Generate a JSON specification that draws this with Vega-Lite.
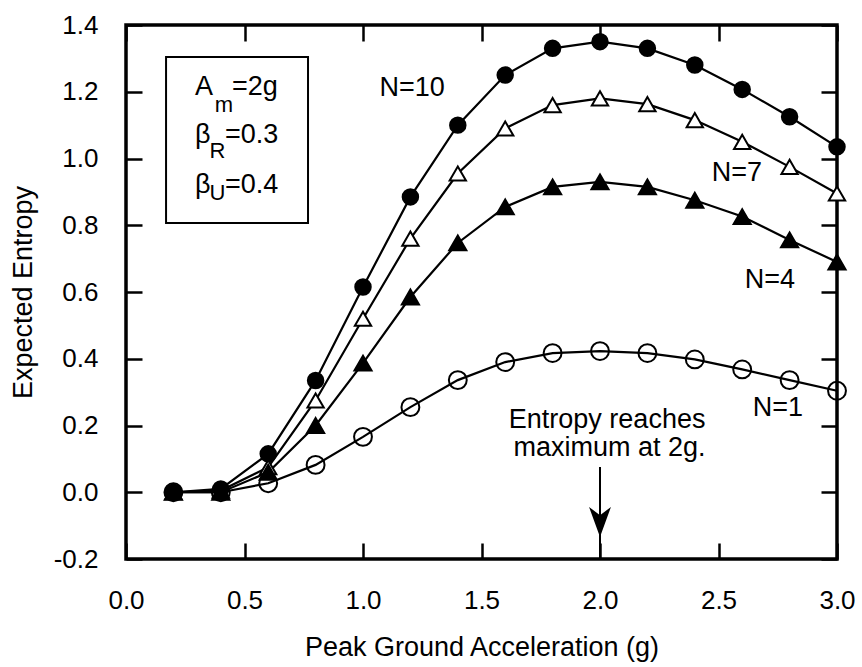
{
  "$schema": "https://vega.github.io/schema/vega-lite/v6.json",
  "width": 711,
  "height": 534,
  "autosize": {"type": "none"},
  "padding": {"left": 126, "top": 25, "right": 25, "bottom": 108},
  "background": "white",
  "config": {
    "view": {"stroke": "black", "strokeWidth": 3.5},
    "font": "Liberation Sans",
    "axis": {
      "grid": false, "domain": false, "tickColor": "black", "tickWidth": 2.5, "tickSize": -16,
      "labelColor": "black", "titleColor": "black", "labelFont": "Liberation Sans", "titleFont": "Liberation Sans",
      "labelFontSize": 26, "titleFontSize": 27, "titleFontWeight": "normal", "labelFlush": false, "labelOverlap": false
    }
  },
  "datasets": {
    "series": [
      {"x": 0.2, "E": 0.0, "N": "N=10"}, {"x": 0.4, "E": 0.01, "N": "N=10"}, {"x": 0.6, "E": 0.115, "N": "N=10"}, {"x": 0.8, "E": 0.335, "N": "N=10"}, {"x": 1.0, "E": 0.615, "N": "N=10"}, {"x": 1.2, "E": 0.885, "N": "N=10"}, {"x": 1.4, "E": 1.10, "N": "N=10"}, {"x": 1.6, "E": 1.25, "N": "N=10"}, {"x": 1.8, "E": 1.33, "N": "N=10"}, {"x": 2.0, "E": 1.35, "N": "N=10"}, {"x": 2.2, "E": 1.33, "N": "N=10"}, {"x": 2.4, "E": 1.28, "N": "N=10"}, {"x": 2.6, "E": 1.207, "N": "N=10"}, {"x": 2.8, "E": 1.125, "N": "N=10"}, {"x": 3.0, "E": 1.035, "N": "N=10"},
      {"x": 0.2, "E": 0.0, "N": "N=7"}, {"x": 0.4, "E": 0.005, "N": "N=7"}, {"x": 0.6, "E": 0.075, "N": "N=7"}, {"x": 0.8, "E": 0.275, "N": "N=7"}, {"x": 1.0, "E": 0.52, "N": "N=7"}, {"x": 1.2, "E": 0.76, "N": "N=7"}, {"x": 1.4, "E": 0.955, "N": "N=7"}, {"x": 1.6, "E": 1.09, "N": "N=7"}, {"x": 1.8, "E": 1.16, "N": "N=7"}, {"x": 2.0, "E": 1.18, "N": "N=7"}, {"x": 2.2, "E": 1.163, "N": "N=7"}, {"x": 2.4, "E": 1.115, "N": "N=7"}, {"x": 2.6, "E": 1.05, "N": "N=7"}, {"x": 2.8, "E": 0.975, "N": "N=7"}, {"x": 3.0, "E": 0.895, "N": "N=7"},
      {"x": 0.2, "E": 0.0, "N": "N=4"}, {"x": 0.4, "E": 0.0, "N": "N=4"}, {"x": 0.6, "E": 0.06, "N": "N=4"}, {"x": 0.8, "E": 0.20, "N": "N=4"}, {"x": 1.0, "E": 0.387, "N": "N=4"}, {"x": 1.2, "E": 0.585, "N": "N=4"}, {"x": 1.4, "E": 0.747, "N": "N=4"}, {"x": 1.6, "E": 0.855, "N": "N=4"}, {"x": 1.8, "E": 0.915, "N": "N=4"}, {"x": 2.0, "E": 0.93, "N": "N=4"}, {"x": 2.2, "E": 0.915, "N": "N=4"}, {"x": 2.4, "E": 0.875, "N": "N=4"}, {"x": 2.6, "E": 0.826, "N": "N=4"}, {"x": 2.8, "E": 0.756, "N": "N=4"}, {"x": 3.0, "E": 0.69, "N": "N=4"},
      {"x": 0.2, "E": 0.0, "N": "N=1"}, {"x": 0.4, "E": 0.0, "N": "N=1"}, {"x": 0.6, "E": 0.027, "N": "N=1"}, {"x": 0.8, "E": 0.082, "N": "N=1"}, {"x": 1.0, "E": 0.166, "N": "N=1"}, {"x": 1.2, "E": 0.255, "N": "N=1"}, {"x": 1.4, "E": 0.336, "N": "N=1"}, {"x": 1.6, "E": 0.39, "N": "N=1"}, {"x": 1.8, "E": 0.417, "N": "N=1"}, {"x": 2.0, "E": 0.423, "N": "N=1"}, {"x": 2.2, "E": 0.417, "N": "N=1"}, {"x": 2.4, "E": 0.398, "N": "N=1"}, {"x": 2.6, "E": 0.368, "N": "N=1"}, {"x": 2.8, "E": 0.336, "N": "N=1"}, {"x": 3.0, "E": 0.304, "N": "N=1"}
    ],
    "box": [{"x0": 0.169, "x1": 0.768, "y0": 0.807, "y1": 1.304}],
    "arrow": [{"x": 2.0, "y0": 0.076, "y1": -0.2, "head": -0.089}],
    "labels": [
      {"x": 1.207, "y": 1.211, "t": "N=10"},
      {"x": 2.578, "y": 0.957, "t": "N=7"},
      {"x": 2.717, "y": 0.636, "t": "N=4"},
      {"x": 2.751, "y": 0.252, "t": "N=1"},
      {"x": 2.03, "y": 0.216, "t": "Entropy reaches"},
      {"x": 2.04, "y": 0.133, "t": "maximum at 2g."}
    ],
    "legmain": [
      {"x": 0.291, "y": 1.19, "t": "A"}, {"x": 0.447, "y": 1.19, "t": "=2g"},
      {"x": 0.291, "y": 1.046, "t": "β"}, {"x": 0.418, "y": 1.046, "t": "=0.3"},
      {"x": 0.291, "y": 0.897, "t": "β"}, {"x": 0.418, "y": 0.897, "t": "=0.4"}
    ],
    "legsub": [
      {"x": 0.374, "y": 1.139, "t": "m"},
      {"x": 0.352, "y": 1.001, "t": "R"},
      {"x": 0.352, "y": 0.876, "t": "U"}
    ]
  },
  "layer": [
    {
      "data": {"name": "box"},
      "mark": {"type": "rect", "fill": "white", "stroke": "black", "strokeWidth": 2},
      "encoding": {
        "x": {"field": "x0", "type": "quantitative", "scale": {"domain": [0, 3], "nice": false, "zero": false}, "axis": null},
        "x2": {"field": "x1"},
        "y": {"field": "y0", "type": "quantitative", "scale": {"domain": [-0.2, 1.4], "nice": false, "zero": false}, "axis": null},
        "y2": {"field": "y1"}
      }
    },
    {
      "data": {"name": "series"},
      "mark": {"type": "line", "color": "black", "strokeWidth": 2.2, "clip": false},
      "encoding": {
        "x": {"field": "x", "type": "quantitative", "scale": {"domain": [0, 3], "nice": false, "zero": false},
              "axis": {"orient": "bottom", "values": [0, 0.5, 1, 1.5, 2, 2.5, 3], "format": ".1f", "labelPadding": 44, "title": "Peak Ground Acceleration (g)", "titlePadding": 21}},
        "y": {"field": "E", "type": "quantitative", "scale": {"domain": [-0.2, 1.4], "nice": false, "zero": false},
              "axis": {"orient": "left", "values": [-0.2, 0, 0.2, 0.4, 0.6, 0.8, 1.0, 1.2, 1.4], "format": ".1f", "labelExpr": "replace(datum.label, '−', '-')", "labelPadding": 44, "title": "Expected Entropy", "titlePadding": 16}},
        "detail": {"field": "N", "type": "nominal"}
      }
    },
    {
      "data": {"name": "arrow"},
      "mark": {"type": "rule", "color": "black", "strokeWidth": 2},
      "encoding": {
        "x": {"field": "x", "type": "quantitative", "axis": null},
        "y": {"field": "y0", "type": "quantitative", "axis": null},
        "y2": {"field": "y1"}
      }
    },
    {
      "data": {"name": "arrow"},
      "mark": {"type": "point", "shape": "M0,1L-0.73,-1L0,-0.45L0.73,-1Z", "size": 900, "filled": true, "color": "black", "opacity": 1},
      "encoding": {
        "x": {"field": "x", "type": "quantitative", "axis": null},
        "y": {"field": "head", "type": "quantitative", "axis": null}
      }
    },
    {
      "data": {"name": "series"},
      "mark": {"type": "point", "filled": true, "stroke": "black", "strokeWidth": 2, "opacity": 1, "clip": false},
      "encoding": {
        "x": {"field": "x", "type": "quantitative", "scale": {"domain": [0, 3], "nice": false, "zero": false},
              "axis": {"orient": "top", "values": [0, 0.5, 1, 1.5, 2, 2.5, 3], "labels": false, "title": null}},
        "y": {"field": "E", "type": "quantitative", "scale": {"domain": [-0.2, 1.4], "nice": false, "zero": false},
              "axis": {"orient": "right", "values": [-0.2, 0, 0.2, 0.4, 0.6, 0.8, 1.0, 1.2, 1.4], "labels": false, "title": null}},
        "shape": {"field": "N", "type": "nominal", "scale": {"domain": ["N=10", "N=7", "N=4", "N=1"], "range": ["circle", "triangle-up", "triangle-up", "circle"]}, "legend": null},
        "fill": {"field": "N", "type": "nominal", "scale": {"domain": ["N=10", "N=7", "N=4", "N=1"], "range": ["black", "white", "black", "transparent"]}, "legend": null},
        "size": {"field": "N", "type": "nominal", "scale": {"domain": ["N=10", "N=7", "N=4", "N=1"], "range": [240, 320, 320, 250]}, "legend": null}
      }
    },
    {
      "data": {"name": "labels"},
      "mark": {"type": "text", "align": "center", "baseline": "middle", "fontSize": 27, "font": "Liberation Sans", "color": "black"},
      "encoding": {
        "x": {"field": "x", "type": "quantitative", "axis": null},
        "y": {"field": "y", "type": "quantitative", "axis": null},
        "text": {"field": "t"}
      }
    },
    {
      "data": {"name": "legmain"},
      "mark": {"type": "text", "align": "left", "baseline": "alphabetic", "fontSize": 27, "font": "Liberation Sans", "color": "black"},
      "encoding": {
        "x": {"field": "x", "type": "quantitative", "axis": null},
        "y": {"field": "y", "type": "quantitative", "axis": null},
        "text": {"field": "t"}
      }
    },
    {
      "data": {"name": "legsub"},
      "mark": {"type": "text", "align": "left", "baseline": "alphabetic", "fontSize": 22, "font": "Liberation Sans", "color": "black"},
      "encoding": {
        "x": {"field": "x", "type": "quantitative", "axis": null},
        "y": {"field": "y", "type": "quantitative", "axis": null},
        "text": {"field": "t"}
      }
    }
  ],
  "resolve": {"axis": {"x": "independent", "y": "independent"}}
}
